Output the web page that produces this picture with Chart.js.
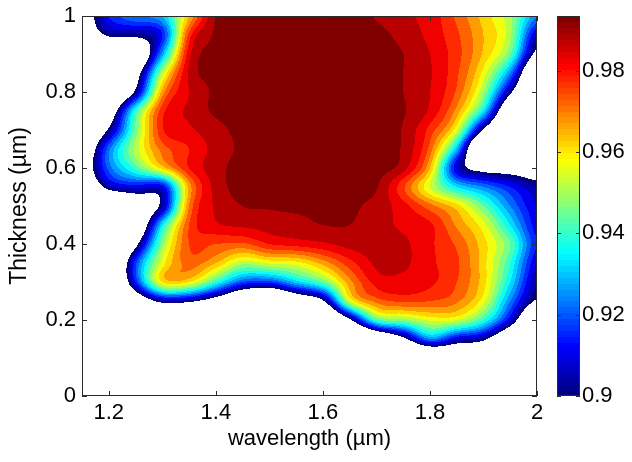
<!DOCTYPE html>
<html>
<head>
<meta charset="utf-8">
<script src="https://cdn.jsdelivr.net/npm/chart.js@4.4.1/dist/chart.umd.min.js"></script>
<style>
  html, body { margin: 0; padding: 0; background: #ffffff; }
  #wrap { width: 632px; height: 462px; }
</style>
</head>
<body>
<div id="wrap"><canvas id="chart" width="632" height="462"></canvas></div>
<script>
// Sample grid: wavelength (µm) along x, film thickness (µm) along y
const wavelength = [1.15, 1.20, 1.25, 1.30, 1.35, 1.40, 1.45, 1.50, 1.55, 1.60, 1.65, 1.70, 1.75, 1.80, 1.85, 1.90, 1.95, 2.00];
const thickness  = [0.00, 0.05, 0.10, 0.15, 0.20, 0.25, 0.30, 0.35, 0.40, 0.45, 0.50, 0.55, 0.60, 0.65, 0.70, 0.75, 0.80, 0.85, 0.90, 0.95, 1.00];

// Measured response, one row per thickness (values along wavelength)
const t100 = [0.890, 0.915, 0.925, 0.930, 0.965, 0.9905, 0.993, 0.9935, 0.9935, 0.9935, 0.993, 0.9895, 0.986, 0.983, 0.974, 0.963, 0.951, 0.925];
const t095 = [0.885, 0.902, 0.903, 0.915, 0.977, 0.991, 0.9935, 0.9935, 0.9935, 0.9935, 0.9935, 0.992, 0.988, 0.9835, 0.976, 0.965, 0.951, 0.908];
const t090 = [0.860, 0.870, 0.875, 0.928, 0.983, 0.991, 0.9935, 0.9935, 0.9935, 0.9935, 0.9935, 0.993, 0.990, 0.985, 0.977, 0.964, 0.945, 0.895];
const t085 = [0.850, 0.860, 0.890, 0.952, 0.986, 0.991, 0.9935, 0.9935, 0.9935, 0.9935, 0.9935, 0.993, 0.990, 0.9855, 0.976, 0.958, 0.925, 0.870];
const t080 = [0.850, 0.865, 0.903, 0.967, 0.985, 0.991, 0.9935, 0.9935, 0.9935, 0.9935, 0.9935, 0.993, 0.990, 0.985, 0.974, 0.950, 0.903, 0.860];
const t075 = [0.860, 0.885, 0.940, 0.978, 0.986, 0.991, 0.9935, 0.9935, 0.9935, 0.9935, 0.9935, 0.993, 0.9905, 0.984, 0.968, 0.935, 0.875, 0.850];
const t070 = [0.870, 0.902, 0.946, 0.979, 0.984, 0.988, 0.992, 0.9935, 0.9935, 0.9935, 0.9935, 0.993, 0.9895, 0.978, 0.956, 0.898, 0.860, 0.850];
const t065 = [0.880, 0.923, 0.952, 0.972, 0.980, 0.987, 0.991, 0.993, 0.9935, 0.9935, 0.993, 0.993, 0.989, 0.973, 0.930, 0.860, 0.850, 0.850];
const t060 = [0.888, 0.922, 0.942, 0.962, 0.980, 0.988, 0.992, 0.993, 0.9935, 0.9935, 0.993, 0.992, 0.987, 0.965, 0.910, 0.893, 0.890, 0.885];
const t055 = [0.875, 0.905, 0.912, 0.912, 0.967, 0.987, 0.991, 0.992, 0.9925, 0.9925, 0.992, 0.9905, 0.976, 0.955, 0.935, 0.925, 0.915, 0.905];
const t050 = [0.850, 0.860, 0.880, 0.905, 0.970, 0.986, 0.990, 0.9905, 0.991, 0.991, 0.991, 0.988, 0.982, 0.972, 0.962, 0.945, 0.925, 0.910];
const t045 = [0.840, 0.850, 0.875, 0.935, 0.975, 0.984, 0.986, 0.987, 0.988, 0.990, 0.990, 0.987, 0.984, 0.981, 0.969, 0.957, 0.935, 0.912];
const t040 = [0.840, 0.850, 0.895, 0.948, 0.975, 0.975, 0.974, 0.980, 0.982, 0.984, 0.987, 0.987, 0.986, 0.981, 0.974, 0.962, 0.945, 0.915];
const t035 = [0.840, 0.860, 0.918, 0.957, 0.972, 0.965, 0.952, 0.956, 0.958, 0.967, 0.978, 0.986, 0.986, 0.981, 0.976, 0.962, 0.940, 0.910];
const t030 = [0.840, 0.860, 0.915, 0.960, 0.960, 0.940, 0.920, 0.918, 0.932, 0.945, 0.968, 0.982, 0.983, 0.981, 0.975, 0.962, 0.935, 0.905];
const t025 = [0.840, 0.850, 0.880, 0.905, 0.903, 0.890, 0.870, 0.860, 0.880, 0.898, 0.955, 0.972, 0.976, 0.975, 0.971, 0.957, 0.925, 0.898];
const t020 = [0.840, 0.840, 0.850, 0.850, 0.850, 0.850, 0.850, 0.850, 0.850, 0.860, 0.897, 0.942, 0.948, 0.956, 0.955, 0.940, 0.910, 0.870];
const t015 = [0.840, 0.840, 0.840, 0.840, 0.840, 0.840, 0.840, 0.840, 0.840, 0.840, 0.850, 0.870, 0.895, 0.925, 0.910, 0.903, 0.875, 0.850];
const t010 = [0.840, 0.840, 0.840, 0.840, 0.840, 0.840, 0.840, 0.840, 0.840, 0.840, 0.840, 0.840, 0.850, 0.860, 0.870, 0.870, 0.850, 0.840];
const t005 = [0.840, 0.840, 0.840, 0.840, 0.840, 0.840, 0.840, 0.840, 0.840, 0.840, 0.840, 0.840, 0.840, 0.840, 0.840, 0.840, 0.840, 0.840];
const t000 = [0.840, 0.840, 0.840, 0.840, 0.840, 0.840, 0.840, 0.840, 0.840, 0.840, 0.840, 0.840, 0.840, 0.840, 0.840, 0.840, 0.840, 0.840];

// Filled contour levels (regions below the first level stay blank)
const levels = [0.900, 0.905, 0.910, 0.915, 0.920, 0.925, 0.930, 0.935, 0.940, 0.945, 0.950, 0.955, 0.960, 0.965, 0.970, 0.975, 0.980, 0.985, 0.990];

// Axis ticks and colour-bar range
const xTicks = [1.2, 1.4, 1.6, 1.8, 2.0];
const yTicks = [0, 0.2, 0.4, 0.6, 0.8, 1.0];
const barTicks = [0.90, 0.92, 0.94, 0.96, 0.98];
const barRange = [0.9, 0.9935];

// Rows ordered by increasing thickness
const table = [t000, t005, t010, t015, t020, t025, t030, t035, t040, t045, t050,
               t055, t060, t065, t070, t075, t080, t085, t090, t095, t100];

const FONT = "'Liberation Sans', Arial, Helvetica, sans-serif";
const INK = '#000000';
const FRAME = '#2b2b2b';

// MATLAB-style "jet" colormap
function jet(t) {
  const c = v => Math.max(0, Math.min(1, v));
  return [c(1.5 - Math.abs(4 * t - 3)), c(1.5 - Math.abs(4 * t - 2)), c(1.5 - Math.abs(4 * t - 1))]
    .map(v => Math.round(v * 255));
}
const bandColors = levels.map((_, k) => jet(k / (levels.length - 1)));

function locate(arr, v) {
  let i = 0;
  while (i < arr.length - 2 && v > arr[i + 1]) i++;
  const f = (v - arr[i]) / (arr[i + 1] - arr[i]);
  return [i, Math.max(0, Math.min(1, f))];
}
function catmull(p0, p1, p2, p3, t) {
  return p1 + 0.5 * t * (p2 - p0 + t * (2 * p0 - 5 * p1 + 4 * p2 - p3 + t * (3 * (p1 - p2) + p3 - p0)));
}
// Smooth bicubic surface through the grid, kept within the local cell range
function surface(wl, th) {
  const nx = wavelength.length, ny = thickness.length;
  const [i, fx] = locate(wavelength, wl);
  const [j, fy] = locate(thickness, th);
  const cx = k => Math.max(0, Math.min(nx - 1, k));
  const cy = k => Math.max(0, Math.min(ny - 1, k));
  const col = [];
  for (let m = -1; m <= 2; m++) {
    const r = table[cy(j + m)];
    col.push(catmull(r[cx(i - 1)], r[cx(i)], r[cx(i + 1)], r[cx(i + 2)], fx));
  }
  const v = catmull(col[0], col[1], col[2], col[3], fy);
  const a = table[j][i], b = table[j][i + 1], c = table[j + 1][i], d = table[j + 1][i + 1];
  return Math.max(Math.min(a, b, c, d), Math.min(Math.max(a, b, c, d), v));
}

const contourPlugin = {
  id: 'contourFill',
  beforeDatasetsDraw(chart) {
    const { ctx, chartArea: a, scales: { x, y } } = chart;
    const w = Math.round(a.right - a.left), h = Math.round(a.bottom - a.top);
    const off = document.createElement('canvas');
    off.width = w; off.height = h;
    const octx = off.getContext('2d');
    const img = octx.createImageData(w, h);
    const xs = [];
    for (let i = 0; i < w; i++) xs.push(x.getValueForPixel(a.left + i + 0.5));
    for (let j = 0; j < h; j++) {
      const th = y.getValueForPixel(a.top + j + 0.5);
      for (let i = 0; i < w; i++) {
        const v = surface(xs[i], th);
        let k = -1;
        for (let m = 0; m < levels.length; m++) if (v >= levels[m]) k = m;
        if (k < 0) continue;
        const col = bandColors[k], p = (j * w + i) * 4;
        img.data[p] = col[0]; img.data[p + 1] = col[1]; img.data[p + 2] = col[2]; img.data[p + 3] = 255;
      }
    }
    octx.putImageData(img, 0, 0);
    ctx.drawImage(off, a.left, a.top);
  },
  afterDraw(chart) {
    const { ctx, chartArea: a, scales: { x, y, bar } } = chart;
    const tick = 5;
    ctx.save();
    ctx.strokeStyle = FRAME;
    ctx.lineWidth = 1;
    // axes box with inward ticks on all four sides
    ctx.strokeRect(a.left + 0.5, a.top + 0.5, a.right - a.left - 1, a.bottom - a.top - 1);
    ctx.beginPath();
    xTicks.forEach(v => {
      const px = Math.round(x.getPixelForValue(v)) + 0.5;
      ctx.moveTo(px, a.bottom); ctx.lineTo(px, a.bottom - tick);
      ctx.moveTo(px, a.top); ctx.lineTo(px, a.top + tick);
    });
    yTicks.forEach(v => {
      const py = Math.round(y.getPixelForValue(v)) + 0.5;
      ctx.moveTo(a.left, py); ctx.lineTo(a.left + tick, py);
      ctx.moveTo(a.right, py); ctx.lineTo(a.right - tick, py);
    });
    ctx.stroke();

    // colour bar: stepped jet colormap over the data range
    const bl = a.right + 20, br = a.right + 43;
    const steps = 64;
    for (let k = 0; k < steps; k++) {
      const v0 = barRange[0] + (barRange[1] - barRange[0]) * k / steps;
      const v1 = barRange[0] + (barRange[1] - barRange[0]) * (k + 1) / steps;
      const p0 = bar.getPixelForValue(v0), p1 = bar.getPixelForValue(v1);
      const c = jet(k / (steps - 1));
      ctx.fillStyle = `rgb(${c[0]},${c[1]},${c[2]})`;
      ctx.fillRect(bl, Math.floor(p1), br - bl, Math.ceil(p0) - Math.floor(p1));
    }
    ctx.strokeRect(bl + 0.5, a.top + 0.5, br - bl - 1, a.bottom - a.top - 1);
    ctx.beginPath();
    barTicks.forEach(v => {
      const py = Math.round(bar.getPixelForValue(v)) + 0.5;
      ctx.moveTo(bl, py); ctx.lineTo(bl + 4, py);
      ctx.moveTo(br, py); ctx.lineTo(br - 4, py);
    });
    ctx.stroke();
    ctx.restore();
  }
};

const fmt = v => String(Number(v.toFixed(2)));
// fixed box sizes; label overhang is left to the outer margins
const fixSize = (w, h) => s => {
  if (w !== null) s.width = w;
  if (h !== null) s.height = h;
  s.paddingTop = 0; s.paddingBottom = 0; s.paddingLeft = 0; s.paddingRight = 0;
};

new Chart(document.getElementById('chart'), {
  type: 'scatter',
  data: { datasets: [] },
  options: {
    responsive: false,
    animation: false,
    devicePixelRatio: 1,
    layout: { padding: { top: 16, left: 0, right: 0, bottom: 0 } },
    plugins: { legend: { display: false }, tooltip: { enabled: false } },
    scales: {
      x: {
        type: 'linear', position: 'bottom', min: 1.15, max: 2.0,
        grid: { display: false, drawTicks: false }, border: { display: false },
        afterBuildTicks: s => { s.ticks = xTicks.map(v => ({ value: v })); },
        afterFit: fixSize(null, 66),
        ticks: { color: INK, padding: 4, font: { family: FONT, size: 22 }, callback: fmt, maxRotation: 0, autoSkip: false },
        title: { display: true, text: 'wavelength (µm)', color: INK, font: { family: FONT, size: 22 }, padding: { top: 0, bottom: 10 } }
      },
      y: {
        type: 'linear', position: 'left', min: 0, max: 1,
        grid: { display: false, drawTicks: false }, border: { display: false },
        afterBuildTicks: s => { s.ticks = yTicks.map(v => ({ value: v })); },
        afterFit: fixSize(82, null),
        ticks: { color: INK, padding: 6, font: { family: FONT, size: 22 }, callback: fmt, autoSkip: false },
        title: { display: true, text: 'Thickness (µm)', color: INK, font: { family: FONT, size: 23 }, padding: { top: 6, bottom: 0 } }
      },
      bar: {
        type: 'linear', position: 'right', min: barRange[0], max: barRange[1],
        grid: { display: false, drawTicks: false }, border: { display: false },
        afterBuildTicks: s => { s.ticks = barTicks.map(v => ({ value: v })); },
        afterFit: fixSize(95, null),
        ticks: { color: INK, padding: 45, font: { family: FONT, size: 22 }, callback: fmt, autoSkip: false }
      }
    }
  },
  plugins: [contourPlugin]
});
</script>
</body>
</html>
